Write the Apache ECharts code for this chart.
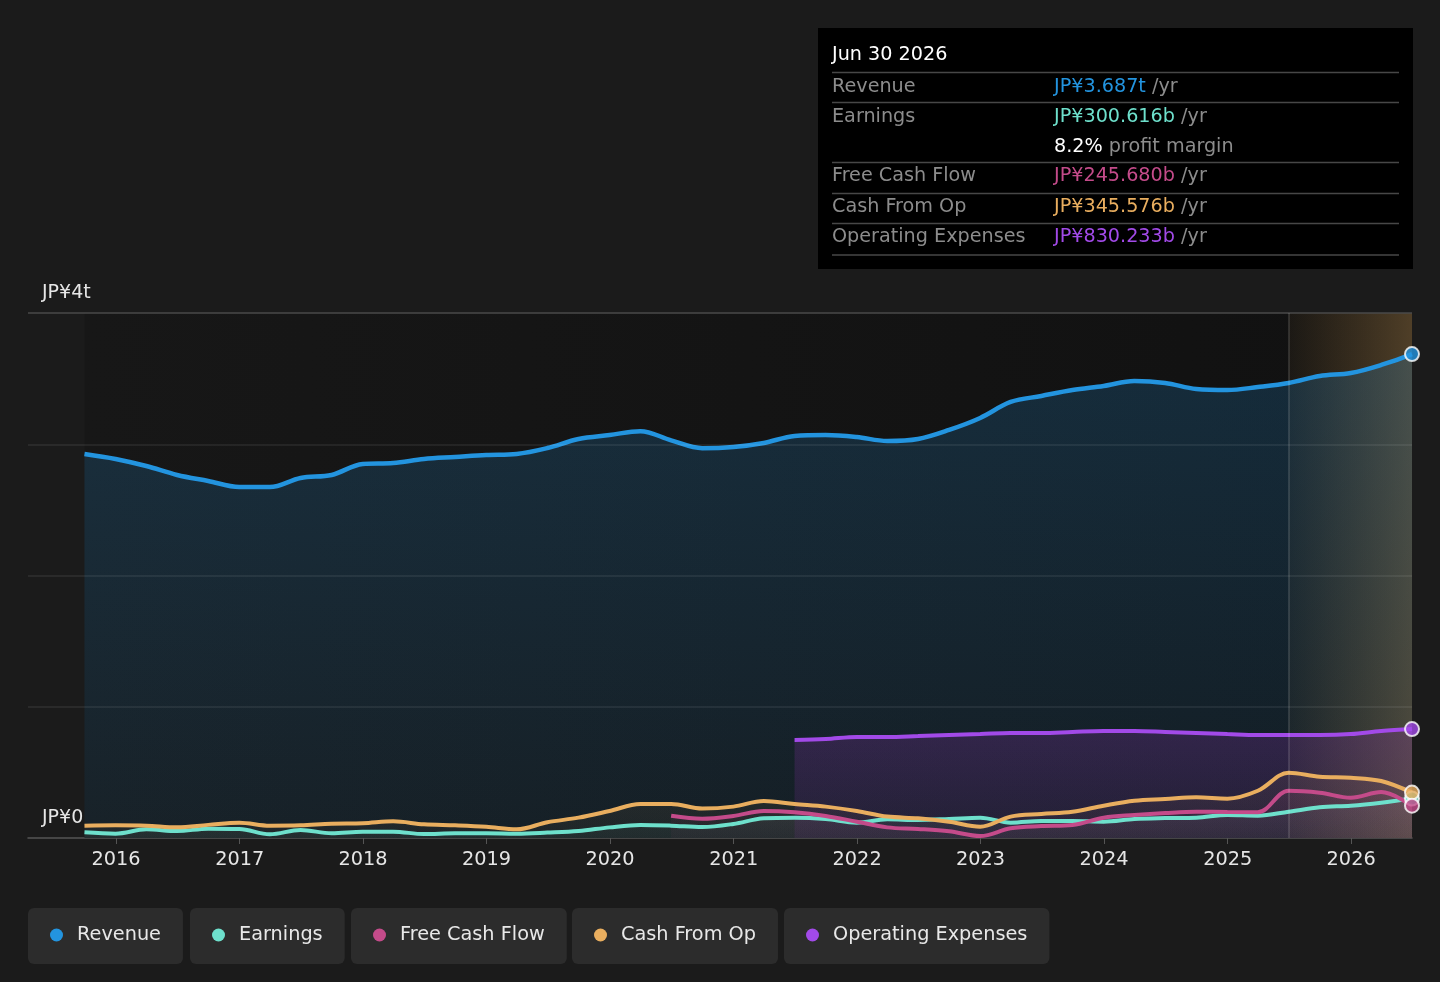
<!DOCTYPE html>
<html>
<head>
<meta charset="utf-8">
<title>Revenue and Earnings</title>
<script src="https://cdn.jsdelivr.net/npm/echarts@6/dist/echarts.min.js"></script>
<style>
html, body { margin: 0; padding: 0; background: #1b1b1b; }
#chart { width: 1440px; height: 982px; }
</style>
</head>
<body>
<div id="chart"></div>
<script>
// quarter ends, values in JP¥ trillions
var quarters = [
    "2015-09-30", "2015-12-31",
    "2016-03-31", "2016-06-30", "2016-09-30", "2016-12-31",
    "2017-03-31", "2017-06-30", "2017-09-30", "2017-12-31",
    "2018-03-31", "2018-06-30", "2018-09-30", "2018-12-31",
    "2019-03-31", "2019-06-30", "2019-09-30", "2019-12-31",
    "2020-03-31", "2020-06-30", "2020-09-30", "2020-12-31",
    "2021-03-31", "2021-06-30", "2021-09-30", "2021-12-31",
    "2022-03-31", "2022-06-30", "2022-09-30", "2022-12-31",
    "2023-03-31", "2023-06-30", "2023-09-30", "2023-12-31",
    "2024-03-31", "2024-06-30", "2024-09-30", "2024-12-31",
    "2025-03-31", "2025-06-30", "2025-09-30", "2025-12-31",
    "2026-03-31", "2026-06-30"
];
var revenue = [
    2.926, 2.888,
    2.834, 2.766, 2.720, 2.674,
    2.674, 2.743, 2.766, 2.850,
    2.857, 2.888, 2.903, 2.918,
    2.926, 2.971, 3.040, 3.070,
    3.100, 3.030, 2.970, 2.979,
    3.010, 3.063, 3.070, 3.055,
    3.025, 3.040, 3.109, 3.200,
    3.322, 3.368, 3.413, 3.444,
    3.482, 3.467, 3.421, 3.413,
    3.436, 3.467, 3.520, 3.543,
    3.604, 3.687
];
var earnings = [
    0.043, 0.033,
    0.066, 0.053, 0.071, 0.069,
    0.028, 0.061, 0.036, 0.048,
    0.048, 0.030, 0.036, 0.036,
    0.033, 0.041, 0.053, 0.081,
    0.099, 0.094, 0.084, 0.107,
    0.150, 0.155, 0.145, 0.117,
    0.142, 0.137, 0.145, 0.155,
    0.117, 0.130, 0.130, 0.124,
    0.145, 0.152, 0.155, 0.175,
    0.170, 0.200, 0.234, 0.246,
    0.269, 0.301
];
var cashFromOp = [
    0.094, 0.097,
    0.094, 0.081, 0.100, 0.117,
    0.094, 0.097, 0.109, 0.112,
    0.127, 0.104, 0.097, 0.086,
    0.066, 0.120, 0.155, 0.206,
    0.259, 0.259, 0.224, 0.239,
    0.282, 0.259, 0.239, 0.206,
    0.163, 0.150, 0.124, 0.086,
    0.163, 0.183, 0.200, 0.246,
    0.284, 0.297, 0.310, 0.300,
    0.360, 0.497, 0.467, 0.459,
    0.434, 0.346
];
// free cash flow starts 2020-06-30
var fcfStart = 19;
var freeCashFlow = [
    0.170, 0.147, 0.168,
    0.206, 0.196, 0.168, 0.124,
    0.081, 0.069, 0.051, 0.015,
    0.074, 0.091, 0.099, 0.155,
    0.175, 0.190, 0.200, 0.198,
    0.196, 0.360, 0.345, 0.307,
    0.350, 0.246
];
// operating expenses start 2021-06-30
var opexStart = 23;
var opex = [
    0.747, 0.754, 0.770,
    0.770, 0.777, 0.785, 0.792,
    0.800, 0.800, 0.808, 0.815,
    0.815, 0.808, 0.800, 0.792,
    0.785, 0.785, 0.785, 0.792,
    0.815, 0.830
];
var forecastStart = "2025-06-30";
var axisMin = "2015-04-16";
var axisMax = "2026-06-30";
var yTicks = [0, 1, 2, 3, 4];

var seriesNames = ["Revenue", "Earnings", "Free Cash Flow", "Cash From Op", "Operating Expenses"];
var seriesColors = ["#2394df", "#6ee0cc", "#c44b8a", "#e9ae5f", "#a24ae8"];

var tipDate = "Jun 30 2026";
var tipValues = ["JP¥3.687t", "JP¥300.616b", "JP¥245.680b", "JP¥345.576b", "JP¥830.233b"];
var tipMargin = "8.2%";

var FONT = "DejaVu Sans";

function toData(values, start){
    var out = [];
    for(var i=0;i<values.length;i++){
        out.push([quarters[start + i], values[i]]);
    }
    return out;
}

function grad(top, bottom){
    return new echarts.graphic.LinearGradient(0, 0, 0, 1, [
        {offset: 0, color: top},
        {offset: 1, color: bottom}
    ]);
}

function lineSeries(name, color, data, width, fillTop, fillBottom){
    return {
        name: name,
        type: "line",
        data: data,
        smooth: 0.35,
        symbol: "none",
        color: color,
        itemStyle: {color: color},
        lineStyle: {color: color, width: width},
        areaStyle: {color: grad(fillTop, fillBottom), origin: "start"},
        emphasis: {disabled: true},
        silent: true
    };
}

var allValues = [revenue, earnings, freeCashFlow, cashFromOp, opex];
var endPoints = [];
var endOrder = [1, 0, 4, 3, 2];
for(var k=0;k<endOrder.length;k++){
    var idx = endOrder[k];
    var arr = allValues[idx];
    endPoints.push({
        value: [quarters[quarters.length - 1], arr[arr.length - 1]],
        itemStyle: {color: seriesColors[idx]}
    });
}

// horizontal grid lines drawn above the fills
var gridLines = [];
for(var g=0;g<yTicks.length;g++){
    if(yTicks[g] === 0){ continue; }
    gridLines.push({
        yAxis: yTicks[g],
        lineStyle: yTicks[g] === 4
            ? {color: "#4a4a4a", width: 1.5, type: "solid"}
            : {color: "rgba(255,255,255,0.09)", width: 1.5, type: "solid"}
    });
}
gridLines.push({xAxis: forecastStart, lineStyle: {color: "rgba(255,255,255,0.16)", width: 1.5, type: "solid"}});

var series = [
    {
        name: "bg",
        type: "line",
        data: [],
        silent: true,
        z: 1,
        markArea: {
            silent: true,
            itemStyle: {
                color: new echarts.graphic.LinearGradient(0, 0, 1, 0, [
                    {offset: 0, color: "#171717"},
                    {offset: 1, color: "#111111"}
                ])
            },
            data: [[{xAxis: quarters[0]}, {xAxis: quarters[quarters.length - 1]}]]
        }
    },
    lineSeries("Revenue", seriesColors[0], toData(revenue, 0), 4.5, "rgba(35,148,224,0.29)", "rgba(35,148,224,0.12)"),
    lineSeries("Earnings", seriesColors[1], toData(earnings, 0), 4, "rgba(110,224,204,0.10)", "rgba(110,224,204,0.05)"),
    lineSeries("Free Cash Flow", seriesColors[2], toData(freeCashFlow, fcfStart), 4, "rgba(196,75,138,0.12)", "rgba(196,75,138,0.06)"),
    lineSeries("Cash From Op", seriesColors[3], toData(cashFromOp, 0), 4, "rgba(233,174,95,0.12)", "rgba(233,174,95,0.06)"),
    lineSeries("Operating Expenses", seriesColors[4], toData(opex, opexStart), 4, "rgba(154,51,189,0.32)", "rgba(154,51,189,0.15)"),
    {
        name: "forecast",
        type: "line",
        data: [],
        silent: true,
        z: 10,
        markArea: {
            silent: true,
            itemStyle: {
                color: new echarts.graphic.LinearGradient(0, 0, 1, 0, [
                    {offset: 0, color: "rgba(190,140,70,0.06)"},
                    {offset: 1, color: "rgba(205,155,85,0.33)"}
                ])
            },
            data: [[{xAxis: forecastStart}, {xAxis: axisMax}]]
        },
        markLine: {
            silent: true,
            symbol: "none",
            label: {show: false},
            data: gridLines
        }
    },
    {
        name: "ends",
        type: "scatter",
        data: endPoints,
        symbol: "circle",
        symbolSize: 14,
        itemStyle: {borderColor: "#ffffff", borderWidth: 2},
        silent: true,
        z: 20
    }
];

var legendLefts = [28, 190, 351, 572, 784];
var legends = [];
for(var i=0;i<seriesNames.length;i++){
    legends.push({
        data: [seriesNames[i]],
        left: legendLefts[i],
        top: 908,
        backgroundColor: "#2c2c2c",
        borderRadius: 6,
        padding: [17, 22, 19, 22],
        icon: "circle",
        itemWidth: 13,
        itemHeight: 13,
        selectedMode: false,
        textStyle: {color: "#e8e8e8", fontSize: 19.3, fontFamily: FONT, lineHeight: 20, padding: [0, 0, 0, 9]}
    });
}

// tooltip-like info box
var tipRowsY = [87, 117, 176, 207, 237];
var sepY = [72.5, 102.5, 162.5, 193.5, 223.5, 255];
var tipFont = "19.2px " + FONT;
var richStyles = {
    c0: {fill: seriesColors[0], font: tipFont},
    c1: {fill: seriesColors[1], font: tipFont},
    c2: {fill: seriesColors[2], font: tipFont},
    c3: {fill: seriesColors[3], font: tipFont},
    c4: {fill: seriesColors[4], font: tipFont},
    w: {fill: "#ffffff", font: tipFont},
    g: {fill: "#8c8c8c", font: tipFont}
};
var tipChildren = [
    {type: "rect", shape: {x: 818, y: 28, width: 595, height: 241}, style: {fill: "#000000"}},
    {type: "text", style: {text: tipDate, x: 832, y: 55, fill: "#ffffff", font: tipFont, verticalAlign: "middle"}}
];
for(var s=0;s<sepY.length;s++){
    tipChildren.push({type: "line", shape: {x1: 832, y1: sepY[s], x2: 1399, y2: sepY[s]}, style: {stroke: "#474747", lineWidth: 1.5}});
}
for(var r=0;r<seriesNames.length;r++){
    tipChildren.push({type: "text", style: {text: seriesNames[r], x: 832, y: tipRowsY[r], fill: "#8c8c8c", font: tipFont, verticalAlign: "middle"}});
    tipChildren.push({type: "text", style: {text: "{c" + r + "|" + tipValues[r] + "}{g| /yr}", x: 1054, y: tipRowsY[r], verticalAlign: "middle", rich: richStyles}});
}
tipChildren.push({type: "text", style: {text: "{w|" + tipMargin + "}{g| profit margin}", x: 1054, y: 147, verticalAlign: "middle", rich: richStyles}});

var chart = echarts.init(document.getElementById("chart"));
var option = {
    backgroundColor: "#1b1b1b",
    animation: false,
    grid: {left: 28, right: 28, top: 313, bottom: 144, containLabel: false},
    legend: legends,
    tooltip: {show: false},
    xAxis: {
        type: "time",
        min: axisMin,
        max: axisMax,
        splitNumber: 11,
        axisLine: {show: true, lineStyle: {color: "#555555", width: 1.5}},
        axisTick: {show: true, length: 6, lineStyle: {color: "#555555"}},
        splitLine: {show: false},
        minorTick: {show: false},
        axisLabel: {
            color: "#e6e6e6",
            fontSize: 19.3,
            fontFamily: FONT,
            margin: 12,
            hideOverlap: true,
            formatter: function(value){
                var d = new Date(value);
                return (d.getMonth() === 0 && d.getDate() === 1) ? String(d.getFullYear()) : "";
            }
        }
    },
    yAxis: {
        type: "value",
        min: 0,
        max: 4,
        interval: 1,
        axisLine: {show: false},
        axisTick: {show: false},
        splitLine: {show: false},
        axisLabel: {
            inside: true,
            color: "#e6e6e6",
            fontSize: 19,
            fontFamily: FONT,
            margin: 14,
            verticalAlign: "bottom",
            padding: [0, 0, 10, 0],
            formatter: function(v){
                if(v === 0){ return "JP¥0"; }
                if(v === 4){ return "JP¥4t"; }
                return "";
            }
        }
    },
    graphic: [{type: "group", silent: true, z: 100, children: tipChildren}],
    series: series
};
chart.setOption(option);
</script>
</body>
</html>
